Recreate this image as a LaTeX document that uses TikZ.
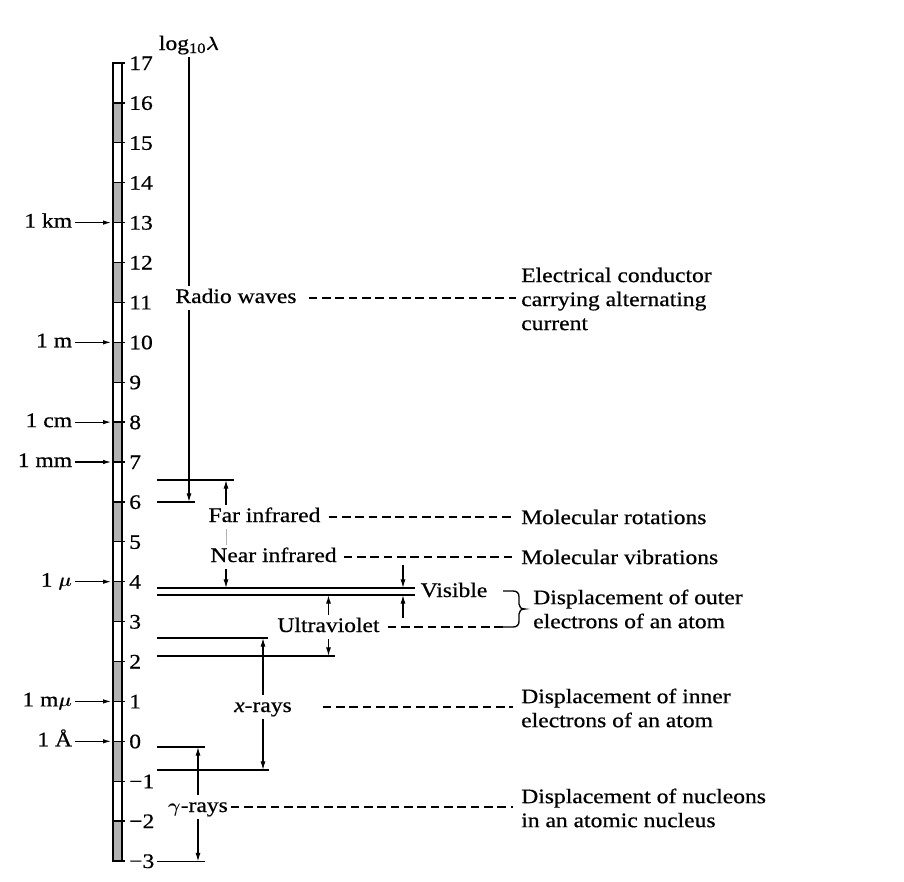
\documentclass[tikz,border=0pt]{standalone}
\usepackage{fontspec}
\setmainfont{Liberation Serif}[FakeStretch=1.14,FakeBold=0.6]
\usepackage{bm}
\usetikzlibrary{arrows.meta}
\begin{document}
\begin{tikzpicture}[x=0.75pt,y=-0.75pt,
  txt/.style={font=\fontsize{15.5}{18}\selectfont},
  lab/.style={txt, text height=10.5pt, text depth=3pt, inner sep=2pt},
  desc/.style={txt, align=left, anchor=west, inner sep=0pt},
  lvl/.style={line width=1pt},
  arr/.style={line width=0.9pt, -{Latex[length=6.5pt,width=3.8pt]}},
  larr/.style={line width=0.8pt, -{Latex[length=6pt,width=3.4pt]}},
  dsh/.style={line width=0.9pt, dash pattern=on 6.5pt off 3.5pt},
  faint/.style={line width=0.6pt, gray!60},
]
\useasboundingbox (0,0) rectangle (904,882);

% ---- scale bar ----
\foreach \v in {16,14,...,-2} {
  \fill[gray!60] (113,{63+(17-\v)*39.9}) rectangle (122,{63+(18-\v)*39.9});
}
\draw[line width=1pt] (113,63) rectangle (122,861);
\foreach \v [count=\i, evaluate=\v as \yy using {63+(17-\v)*39.9}] in {-3,...,17} {
  \draw[line width=1pt] (113,\yy) -- (124.5,\yy);
  \node[txt, anchor=base west, inner sep=0pt] (n\i) at (129,\yy+7) {\ifnum\v<0 −\number-\v\else\v\fi};
}

% ---- left unit labels ----
\node[lab, anchor=east] (km)  at (75,222.6) {1 km};
\node[lab, anchor=east] (m)   at (75,342.3) {1 m};
\node[lab, anchor=east] (cm)  at (75,422.1) {1 cm};
\node[lab, anchor=east] (mm)  at (75,462.0) {1 mm};
\node[lab, anchor=east] (mu)  at (75,581.7) {1 $\bm{\mu}$};
\node[lab, anchor=east] (mmu) at (75,701.4) {1 m$\bm{\mu}$};
\node[lab, anchor=east] (ang) at (75,741.3) {1 Å};
\coordinate (bkm)  at (111,222.6);
\coordinate (bm)   at (111,342.3);
\coordinate (bcm)  at (111,422.1);
\coordinate (bmm)  at (111,462.0);
\coordinate (bmu)  at (111,581.7);
\coordinate (bmmu) at (111,701.4);
\coordinate (bang) at (111,741.3);
\draw[larr] (km) -- (bkm);
\draw[larr] (m) -- (bm);
\draw[larr] (cm) -- (bcm);
\draw[larr] (mm) -- (bmm);
\draw[larr] (mu) -- (bmu);
\draw[larr] (mmu) -- (bmmu);
\draw[larr] (ang) -- (bang);

% ---- level lines ----
\coordinate (l65a) at (157,480);   \coordinate (l65b) at (234,480);
\coordinate (l6a)  at (157,502);   \coordinate (l6b)  at (195,502);
\coordinate (v1a)  at (157,588);   \coordinate (v1b)  at (415,588);
\coordinate (v2a)  at (157,595);   \coordinate (v2b)  at (415,595);
\coordinate (l26a) at (157,638);   \coordinate (l26b) at (268,638);
\coordinate (l21a) at (157,656);   \coordinate (l21b) at (335,656);
\coordinate (l01a) at (157,747);   \coordinate (l01b) at (205,747);
\coordinate (l07a) at (157,770);   \coordinate (l07b) at (269,770);
\coordinate (l3a)  at (157,861.5); \coordinate (l3b)  at (205,861.5);
\foreach \a/\b in {l65a/l65b,l6a/l6b,v1a/v1b,v2a/v2b,l26a/l26b,l21a/l21b,l01a/l01b,l07a/l07b,l3a/l3b}
  \draw[lvl] (\a) -- (\b);

% ---- band labels ----
\node[lab] (logl)   at (189,45)  {log\textsubscript{10}$\bm{\lambda}$};
\node[lab] (radio)  at (236,298) {Radio waves};
\node[lab] (farir)  at (264.5,517) {Far infrared};
\node[lab] (nearir) at (273.5,557) {Near infrared};
\node[lab] (vis)    at (454,592) {Visible};
\node[lab] (uv)     at (328.5,627) {Ultraviolet};
\node[lab] (xr)     at (263,707) {\textit{x}-rays};
\node[lab] (gm)     at (198,807) {$\bm{\gamma}$-rays};

% ---- range arrows ----
\draw[lvl] (logl.south) -- (radio.north -| logl.south);
\draw[arr] (radio.south -| logl.south) -- (l6a -| logl.south);

\coordinate (xa) at (226,480);
\draw[arr] (farir.north -| xa) -- (xa);
\draw[faint] (farir.south -| xa) -- (nearir.north -| xa);
\draw[arr] (nearir.south -| xa) -- (v1a -| xa);

\coordinate (vd) at (403,565);
\coordinate (vu) at (403,618);
\draw[arr] (vd) -- (vd |- v1b);
\draw[arr] (vu) -- (vu |- v2b);

\draw[arr] (uv.north) -- (uv.north |- v2a);
\draw[arr] (uv.south) -- (uv.south |- l21a);

\draw[arr] (xr.north) -- (xr.north |- l26a);
\draw[arr] (xr.south) -- (xr.south |- l07a);

\draw[arr] (gm.north) -- (gm.north |- l01a);
\draw[arr] (gm.south) -- (gm.south |- l3a);

% ---- descriptions ----
\node[desc] (elec)  at (521,299) {Electrical conductor\\carrying alternating\\current};
\node[desc] (rot)   at (521,517) {Molecular rotations};
\node[desc] (vib)   at (521,557) {Molecular vibrations};
\node[desc] (outer) at (533,609) {Displacement of outer\\electrons of an atom};
\node[desc] (inner) at (521,708) {Displacement of inner\\electrons of an atom};
\node[desc] (nucl)  at (521,808) {Displacement of nucleons\\in an atomic nucleus};

% ---- brace ----
\coordinate (brt) at (503,591);
\coordinate (brb) at (503,627);
\draw[lvl] (brt) -- (513,591) .. controls (517,591) and (519,593) .. (519,597)
  -- (519,604) .. controls (519,607) and (521,609) .. (525,609)
  .. controls (521,609) and (519,611) .. (519,614)
  -- (519,621) .. controls (519,625) and (517,627) .. (513,627) -- (brb);

% ---- dashed connectors ----
\draw[dsh, shorten <=7pt, shorten >=4pt] (radio.east) -- (radio.east -| elec.west);
\draw[dsh, shorten <=4pt, shorten >=6pt] (farir.east) -- (farir.east -| rot.west);
\draw[dsh, shorten <=3pt, shorten >=6pt] (nearir.east) -- (nearir.east -| vib.west);
\draw[dsh, shorten <=4pt] (uv.east) -- (uv.east -| brb);
\draw[dsh, shorten <=21pt, shorten >=6pt] (xr.east) -- (xr.east -| inner.west);
\draw[dsh, shorten >=6pt] (gm.east) -- (gm.east -| nucl.west);
\end{tikzpicture}
\end{document}
